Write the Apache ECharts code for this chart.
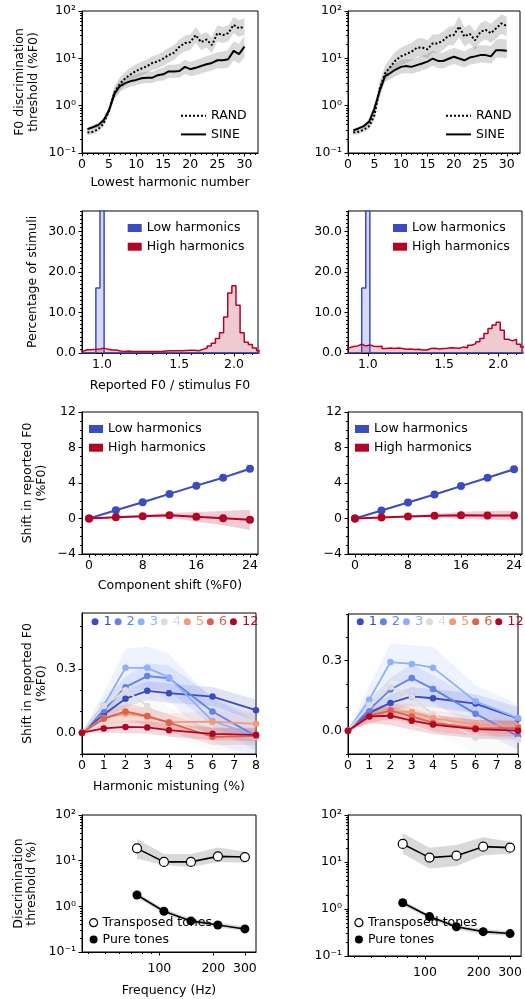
<!DOCTYPE html>
<html>
<head>
<meta charset="utf-8">
<script src="https://cdn.jsdelivr.net/npm/echarts@6.0.0/dist/echarts.min.js"></script>
<style>
html, body { margin: 0; padding: 0; background: #fff; }
#main { width: 525px; height: 999px; }
</style>
</head>
<body>
<div id="main"></div>
<script>
// ---- row 1: F0 discrimination vs lowest harmonic ----
var harmonicNumbers = [1,2,3,4,5,6,7,8,9,10,11,12,13,14,15,16,17,18,19,20,21,22,23,24,25,26,27,28,29,30];

var randLeft   = [0.27,0.28,0.32,0.42,0.8,1.9,2.9,3.8,4.6,5.4, 6.1,6.8,8.0,8.6,9.9,11.7,13.2,17.6,21,22, 31,22,25,19,34,31,34,51,43,47];
var randLeftLo = [0.24,0.25,0.28,0.36,0.65,1.4,2.1,2.7,3.3,3.9, 4.4,4.9,5.7,6.1,7,8.2,9.2,12,14,15, 21,15,17,13,23,21,23,34,29,31];
var randLeftHi = [0.31,0.32,0.37,0.5,1.0,2.6,4.0,5.2,6.4,7.5, 8.5,9.5,11,12,14,16.5,19,25,30,32, 46,32,36,28,50,46,50,75,64,70];
var sineLeft   = [0.32,0.35,0.39,0.49,0.8,1.8,2.6,3.0,3.3,3.5, 3.8,3.9,3.9,4.4,4.6,5.3,5.3,5.4,6.6,5.9, 6.3,6.9,7.5,8.0,9.1,9.1,9.6,14.4,12.3,17.6];
var sineLeftLo = [0.29,0.32,0.35,0.43,0.68,1.4,2.0,2.3,2.5,2.7, 2.9,3.0,3.0,3.3,3.4,3.9,3.9,3.9,4.7,4.2, 4.4,4.8,5.2,5.5,6.2,6.1,6.4,9,7.8,10.5];
var sineLeftHi = [0.35,0.39,0.44,0.57,0.95,2.3,3.3,3.9,4.3,4.6, 5.0,5.2,5.2,5.9,6.3,7.3,7.3,7.6,9.4,8.4, 9.1,10,11,12,13.5,14,15,23,20,30];

var randRight   = [0.27,0.28,0.31,0.37,0.63,2.3,4.8,6.6,9.1,11, 12.3,13.8,16.7,17,15.5,20.7,20.7,24,30,31, 47,29,33,24,36,40,34,43,55,48];
var randRightLo = [0.24,0.25,0.28,0.32,0.5,1.6,3.3,4.4,6,7.2, 8,9,10.8,11,10,13,13,15,19,19, 28,18,21,15,22,25,21,26,33,29];
var randRightHi = [0.3,0.31,0.35,0.43,0.8,3.3,7,10,14,17, 19,21,26,27,24,32,32,37,46,48, 78,45,52,37,56,62,53,68,85,76];
var sineRight   = [0.3,0.33,0.37,0.46,0.87,2.1,4.2,4.9,5.8,6.6, 6.9,6.6,7.2,7.8,8.5,9.9,8.8,8.8,9.8,10.8, 9.9,9.1,10.4,11,11.7,11.7,11,14.9,14.9,14.4];
var sineRightLo = [0.27,0.3,0.33,0.4,0.7,1.6,3.2,3.6,4.2,4.7, 4.9,4.7,5.1,5.5,6,7,6.2,6.2,6.9,7.6, 7,6.4,7.3,7.7,8.2,8.2,7.7,10.3,10.3,10];
var sineRightHi = [0.33,0.36,0.41,0.53,1.1,2.8,5.6,6.6,8,9.2, 9.8,9.4,10.3,11.3,12.5,14.7,13.2,13.3,15,16.5, 15.3,14.2,16.3,17.5,18.8,19,18,25,25.5,25];

// ---- row 2: histograms, 32 bins per octave, first bin index -5 ----
var histFirstBin = -5;
var binsPerOctave = 32;
var histLowLeft  = [0,0,0,0,16,60,0,0,0,0, 0,0,0,0,0,0,0,0,0,0, 0,0,0,0,0,0,0,0,0,0, 0,0,0,0,0,0,0,0,0,0, 0,0,0,0];
var histHighLeft = [0.5,0.8,0.8,0.9,1.0, 1.2,0.9,0.75,0.75,0.5,0.4,0.5,0.35,0.4,0.35,
                    0.4,0.35,0.35,0.4,0.35,0.5,0.55,0.55,0.55,0.55,
                    0.6,0.65,0.65,0.55,0.9,1.25,1.75,2.4,3.6,5.0,
                    8.9,14.8,16.6,11.8,5.0,2.65,2.1,1.25,0.55];
var histLowRight  = [0,0,0,0,16,60,0,0,0,0, 0,0,0,0,0,0,0,0,0,0, 0,0,0,0,0,0,0,0,0,0, 0,0,0,0,0,0,0,0,0,0, 0,0,0,0];
var histHighRight = [1.3,1.6,1.75,2.15,1.75, 2.0,1.65,1.6,1.65,1.1,1.25,1.1,1.25,1.1,0.9,
                     1.0,0.85,0.9,0.75,0.75,1.1,1.15,1.0,1.1,1.15,
                     1.3,1.25,1.15,1.5,1.3,1.9,2.3,2.8,3.55,4.8,
                     6.05,6.9,7.55,5.6,3.4,3.0,3.4,2.15,1.5];

// ---- row 3: component shift ----
var componentShift = [0,4,8,12,16,20,24];
var lowShiftLeft   = [0,0.93,1.83,2.77,3.7,4.6,5.6];
var lowShiftLeftErr = [0,0.08,0.1,0.1,0.12,0.12,0.15];
var highShiftLeft  = [0,0.15,0.26,0.37,0.19,0.04,-0.15];
var highShiftLeftErr = [0.05,0.1,0.15,0.25,0.55,0.8,1.15];
var lowShiftRight  = [0,0.9,1.8,2.7,3.65,4.6,5.55];
var lowShiftRightErr = [0,0.08,0.1,0.1,0.12,0.12,0.15];
var highShiftRight = [0,0.1,0.22,0.3,0.37,0.35,0.35];
var highShiftRightErr = [0.03,0.08,0.12,0.2,0.4,0.5,0.55];

// ---- row 4: harmonic mistuning ----
var mistuning = [0,1,2,3,4,6,8];
var mistunedHarmonics = ['1','2','3','4','5','6','12'];
var mistuneLeft = [
  [0,0.086,0.16,0.197,0.186,0.17,0.106],
  [0,0.105,0.214,0.266,0.256,0.10,-0.016],
  [0,0.128,0.305,0.305,0.26,0.055,-0.016],
  [0,0.125,0.2,0.125,0.05,-0.01,-0.02],
  [0,0.069,0.09,0.075,0.05,0.052,0.042],
  [0,0.066,0.1,0.078,0.047,-0.019,-0.016],
  [0,0.02,0.027,0.025,0.012,-0.005,-0.01]
];
var mistuneLeftErr = [
  [0,0.03,0.04,0.045,0.045,0.045,0.05],
  [0,0.04,0.05,0.06,0.06,0.07,0.07],
  [0,0.06,0.09,0.1,0.11,0.1,0.1],
  [0,0.05,0.07,0.07,0.07,0.07,0.07],
  [0,0.03,0.04,0.04,0.04,0.05,0.05],
  [0,0.03,0.04,0.04,0.04,0.04,0.04],
  [0,0.02,0.03,0.03,0.03,0.03,0.03]
];
var mistuneRight = [
  [0,0.076,0.119,0.147,0.139,0.116,0.051],
  [0,0.09,0.176,0.226,0.179,0.073,-0.024],
  [0,0.133,0.294,0.286,0.27,0.126,0.054],
  [0,0.11,0.187,0.147,0.069,-0.029,-0.039],
  [0,0.061,0.083,0.079,0.054,0.026,0.019],
  [0,0.064,0.086,0.061,0.033,0.011,0.011],
  [0,0.061,0.064,0.043,0.026,0.007,0.0]
];
var mistuneRightErr = [
  [0,0.03,0.035,0.04,0.04,0.04,0.05],
  [0,0.04,0.05,0.06,0.06,0.06,0.06],
  [0,0.06,0.08,0.08,0.09,0.07,0.06],
  [0,0.05,0.06,0.06,0.07,0.07,0.07],
  [0,0.03,0.035,0.035,0.035,0.035,0.035],
  [0,0.03,0.035,0.035,0.035,0.035,0.035],
  [0,0.03,0.04,0.04,0.04,0.04,0.04]
];

// ---- row 5: pure vs transposed tones ----
var frequencies = [75,106,150,212,300];
var transLeft   = [18.6,9.4,9.4,12.4,12.0];
var transLeftLo = [11,8,7.3,9.4,9];
var transLeftHi = [30,14,14,19.5,15.8];
var pureLeft    = [1.77,0.78,0.48,0.39,0.32];
var pureLeftLo  = [1.55,0.69,0.43,0.35,0.29];
var pureLeftHi  = [2.0,0.88,0.54,0.44,0.36];
var transRight   = [24.2,12.4,13.6,21.2,20.2];
var transRightLo = [15,7.3,8.2,14,15];
var transRightHi = [41,20,23,33.5,27];
var pureRight    = [1.36,0.69,0.42,0.33,0.30];
var pureRightLo  = [1.2,0.61,0.37,0.29,0.27];
var pureRightHi  = [1.52,0.77,0.47,0.37,0.34];

// ---- tick labels ----
var logDecades = [0.1, 1, 10, 100];
var harmonicTicks = [0,5,10,15,20,25,30];
var ratioTicks = [1.0, 1.5, 2.0];
var ratioMinorTicks = [1.1,1.2,1.3,1.4,1.6,1.7,1.8,1.9,2.1,2.2];
var percentTicks = [0,10,20,30];
var shiftTicks = [0,8,16,24];
var reportedShiftTicks = [-4,0,4,8,12];
var mistuneTicks = [0,1,2,3,4,5,6,7,8];
var mistuneYTicks = [0.0, 0.3];
var freqTicks = [100,200,300];
var freqMinorTicks = [40,50,60,70,80,90];

// ---- style ----
var FONT = 'DejaVu Sans';
var INK = '#000';
var FS = 12.5;
var GRAY_BAND = 'rgba(128,128,128,0.3)';
var COOL = '#3b4cc0', WARM = '#b40426';
var mistuneColors = ['#3b4cc0','#6282ea','#8db0fe','#dddcdc','#f49a7b','#de604d','#b40426'];

function rgba(hex, a) {
  var n = parseInt(hex.slice(1), 16);
  return 'rgba(' + (n >> 16) + ',' + ((n >> 8) & 255) + ',' + (n & 255) + ',' + a + ')';
}
function steps(a, b, s) {
  var out = [];
  for (var v = a; v <= b + 1e-9; v += s) out.push(+v.toFixed(6));
  return out;
}
function logMinor(lo, hi) {
  var out = [];
  for (var d = lo; d < hi; d *= 10) for (var m = 2; m <= 9; m++) out.push(+(d * m).toPrecision(6));
  return out;
}
var SUP = {'-1': '10\u207b\u00b9', '0': '10\u2070', '1': '10\u00b9', '2': '10\u00b2'};
function logFmt(v) { return SUP[String(Math.round(Math.log10(v)))]; }
function fix1(v) { return (+v).toFixed(1); }
function minusFmt(v) { return v < 0 ? '\u2212' + Math.abs(v) : String(v); }

var grids = [
  {left: 82,  top: 11,  width: 176, height: 142},
  {left: 348, top: 11,  width: 172, height: 142},
  {left: 82,  top: 211, width: 176, height: 142},
  {left: 348, top: 211, width: 174, height: 142},
  {left: 82,  top: 412, width: 176, height: 142},
  {left: 348, top: 412, width: 174, height: 142},
  {left: 82,  top: 613, width: 174, height: 141},
  {left: 348, top: 614, width: 174, height: 140},
  {left: 82,  top: 815, width: 174, height: 141},
  {left: 348, top: 815, width: 174, height: 141}
].map(function (g) {
  return Object.assign({show: true, borderColor: INK, borderWidth: 1, backgroundColor: 'transparent'}, g);
});

// axis 2*g is the labelled one for grid g, 2*g+1 carries the minor ticks
var xAxes = [], yAxes = [];
function addAxes(list, dim, g, o) {
  var common = {
    gridIndex: g, type: o.type || 'value', min: o.min, max: o.max,
    position: dim === 'x' ? 'bottom' : 'left',
    splitLine: {show: false}, minorTick: {show: false}, minorSplitLine: {show: false}
  };
  list[2 * g] = Object.assign({}, common, {
    axisLine: {show: true, onZero: false, lineStyle: {color: INK, width: 1}},
    axisTick: {show: true, inside: false, length: 3.5, lineStyle: {color: INK, width: 1}, customValues: o.major},
    axisLabel: {show: true, customValues: o.major, formatter: o.fmt, margin: o.margin || (dim === 'x' ? 5 : 6),
                color: INK, fontFamily: FONT, fontSize: FS, hideOverlap: false},
    name: o.name || '', nameLocation: 'middle', nameGap: o.gap || 0, nameRotate: dim === 'y' ? 90 : 0,
    nameTextStyle: {color: INK, fontFamily: FONT, fontSize: FS, lineHeight: o.lh || 14}
  });
  list[2 * g + 1] = Object.assign({}, common, {
    axisLine: {show: false, onZero: false},
    axisTick: {show: !!o.minor, inside: false, length: 2, lineStyle: {color: INK, width: 1}, customValues: o.minor || []},
    axisLabel: {show: false}
  });
}

var logMinorTicks = logMinor(0.1, 100);
[0, 1].forEach(function (c) {
  var g = c;
  addAxes(xAxes, 'x', g, {min: 0, max: 32.5, major: harmonicTicks, minor: steps(1, 32, 1),
    name: c === 0 ? 'Lowest harmonic number' : '', gap: 23});
  addAxes(yAxes, 'y', g, {type: 'log', min: 0.1, max: 100, major: logDecades, minor: logMinorTicks, fmt: logFmt,
    name: c === 0 ? 'F0 discrimination\nthreshold (%F0)' : '', gap: 42, lh: 13.5});
  g = 2 + c;
  addAxes(xAxes, 'x', g, {type: 'log', min: 0.9, max: 2.27, major: ratioTicks, minor: ratioMinorTicks, fmt: fix1,
    name: c === 0 ? 'Reported F0 / stimulus F0' : '', gap: 26});
  addAxes(yAxes, 'y', g, {min: 0, max: 35, major: percentTicks, minor: steps(1, 35, 1), fmt: fix1,
    name: c === 0 ? 'Percentage of stimuli' : '', gap: 42});
  g = 4 + c;
  addAxes(xAxes, 'x', g, {min: -1.05, max: 25.2, major: shiftTicks, minor: steps(1, 25, 1),
    name: c === 0 ? 'Component shift (%F0)' : '', gap: 25});
  addAxes(yAxes, 'y', g, {min: -4, max: 12, major: reportedShiftTicks, minor: steps(-4, 12, 1), fmt: minusFmt,
    name: c === 0 ? 'Shift in reported F0\n(%F0)' : '', gap: 33, lh: 14.4});
  g = 6 + c;
  addAxes(xAxes, 'x', g, {min: 0, max: 8, major: mistuneTicks,
    name: c === 0 ? 'Harmonic mistuning (%)' : '', gap: 26});
  addAxes(yAxes, 'y', g, {min: -0.1, max: c === 0 ? 0.5625 : 0.5, major: mistuneYTicks, minor: [-0.1, 0.1, 0.2, 0.4, 0.5], fmt: fix1,
    name: c === 0 ? 'Shift in reported F0\n(%F0)' : '', gap: 33, lh: 14.4});
  g = 8 + c;
  addAxes(xAxes, 'x', g, {type: 'log', min: 37, max: 346, major: freqTicks, minor: freqMinorTicks, margin: 10,
    name: c === 0 ? 'Frequency (Hz)' : '', gap: 32});
  addAxes(yAxes, 'y', g, {type: 'log', min: 0.1, max: 100, major: logDecades, minor: logMinorTicks, fmt: logFmt,
    name: c === 0 ? 'Discrimination\nthreshold (%)' : '', gap: 43.5, lh: 13.5});
});

var series = [];
function band(g, xs, lo, hi, color) {
  return {
    type: 'custom', xAxisIndex: 2 * g, yAxisIndex: 2 * g, z: 1, silent: true,
    data: [[xs[0], hi[0]]],
    renderItem: function (params, api) {
      var pts = [];
      for (var i = 0; i < xs.length; i++) pts.push(api.coord([xs[i], hi[i]]));
      for (var j = xs.length - 1; j >= 0; j--) pts.push(api.coord([xs[j], lo[j]]));
      var cs = params.coordSys;
      return {
        type: 'polygon', shape: {points: pts}, style: {fill: color, stroke: null},
        clipPath: {type: 'rect', shape: {x: cs.x, y: cs.y, width: cs.width, height: cs.height}}
      };
    }
  };
}
function errBand(g, xs, ys, err, color) {
  return band(g, xs,
    ys.map(function (v, i) { return v - err[i]; }),
    ys.map(function (v, i) { return v + err[i]; }), color);
}
function line(g, name, xs, ys, st) {
  return {
    type: 'line', name: name, xAxisIndex: 2 * g, yAxisIndex: 2 * g, z: st.z || 3,
    data: xs.map(function (x, i) { return [x, ys[i]]; }),
    symbol: st.symbol || 'none', symbolSize: st.size || 0, showSymbol: !!st.symbol,
    itemStyle: {color: st.fill || st.color, borderColor: st.color, borderWidth: st.bw || 0},
    lineStyle: {color: st.color, width: st.width || 2, type: st.type || 'solid'},
    emphasis: {disabled: true}, silent: true
  };
}
function binEdge(i) { return Math.pow(2, (histFirstBin + i - 0.5) / binsPerOctave); }
function histData(h) {
  var pts = [[binEdge(0), 0]];
  for (var i = 0; i < h.length; i++) pts.push([binEdge(i), h[i]]);
  pts.push([binEdge(h.length), 0]);
  return pts;
}
function hist(g, name, h, color) {
  return {
    type: 'line', name: name, xAxisIndex: 2 * g, yAxisIndex: 2 * g, step: 'end', z: 2,
    symbol: 'none', showSymbol: false, data: histData(h), silent: true,
    lineStyle: {color: color, width: 1.5}, itemStyle: {color: color},
    areaStyle: {color: rgba(color, 0.3), origin: 'start'}
  };
}

// row 1
[[0, randLeft, randLeftLo, randLeftHi, sineLeft, sineLeftLo, sineLeftHi],
 [1, randRight, randRightLo, randRightHi, sineRight, sineRightLo, sineRightHi]].forEach(function (p) {
  series.push(band(p[0], harmonicNumbers, p[2], p[3], GRAY_BAND));
  series.push(band(p[0], harmonicNumbers, p[5], p[6], GRAY_BAND));
  series.push(line(p[0], 'RAND', harmonicNumbers, p[1], {color: INK, width: 2, type: [2, 2]}));
  series.push(line(p[0], 'SINE', harmonicNumbers, p[4], {color: INK, width: 2}));
});
// row 2
[[2, histLowLeft, histHighLeft], [3, histLowRight, histHighRight]].forEach(function (p) {
  series.push(hist(p[0], 'Low harmonics', p[1], COOL));
  series.push(hist(p[0], 'High harmonics', p[2], WARM));
});
// row 3
[[4, lowShiftLeft, lowShiftLeftErr, highShiftLeft, highShiftLeftErr],
 [5, lowShiftRight, lowShiftRightErr, highShiftRight, highShiftRightErr]].forEach(function (p) {
  series.push(errBand(p[0], componentShift, p[1], p[2], rgba(COOL, 0.2)));
  series.push(errBand(p[0], componentShift, p[3], p[4], rgba(WARM, 0.2)));
  series.push(line(p[0], 'Low harmonics', componentShift, p[1], {color: COOL, width: 2, symbol: 'circle', size: 8}));
  series.push(line(p[0], 'High harmonics', componentShift, p[3], {color: WARM, width: 2, symbol: 'circle', size: 8}));
});
// row 4
[[6, mistuneLeft, mistuneLeftErr], [7, mistuneRight, mistuneRightErr]].forEach(function (p) {
  mistunedHarmonics.forEach(function (name, k) {
    series.push(errBand(p[0], mistuning, p[1][k], p[2][k], rgba(mistuneColors[k], 0.15)));
  });
  mistunedHarmonics.forEach(function (name, k) {
    series.push(line(p[0], name, mistuning, p[1][k], {color: mistuneColors[k], width: 1.8, symbol: 'circle', size: 6.5, z: 3 + k * 0.01}));
  });
});
// row 5
[[8, transLeft, transLeftLo, transLeftHi, pureLeft, pureLeftLo, pureLeftHi],
 [9, transRight, transRightLo, transRightHi, pureRight, pureRightLo, pureRightHi]].forEach(function (p) {
  series.push(band(p[0], frequencies, p[2], p[3], GRAY_BAND));
  series.push(band(p[0], frequencies, p[5], p[6], GRAY_BAND));
  series.push(line(p[0], 'Transposed tones', frequencies, p[1], {color: INK, width: 1.6, symbol: 'circle', size: 9, fill: '#fff', bw: 1.2}));
  series.push(line(p[0], 'Pure tones', frequencies, p[4], {color: INK, width: 1.6, symbol: 'circle', size: 9, fill: INK}));
});

var legendText = {color: INK, fontFamily: FONT, fontSize: FS, lineHeight: 14};
var legends = [];
[180, 445].forEach(function (x) {
  legends.push({left: x, top: 108.7, orient: 'vertical', itemWidth: 25, itemHeight: 10, itemGap: 4.7,
    padding: 0, selectedMode: false, textStyle: legendText,
    itemStyle: {color: 'transparent', borderColor: 'transparent', borderWidth: 0},
    data: ['RAND', 'SINE']});
});
[[127.7, 221], [393, 221], [89, 422], [355, 422]].forEach(function (p) {
  legends.push({left: p[0], top: p[1], orient: 'vertical', icon: 'rect', itemWidth: 14, itemHeight: 8, itemGap: 4.7,
    padding: 0, selectedMode: false, textStyle: legendText, itemStyle: {borderWidth: 0},
    data: [{name: 'Low harmonics', itemStyle: {color: COOL}}, {name: 'High harmonics', itemStyle: {color: WARM}}]});
});
[[91.5, 614.7], [356.8, 614.7]].forEach(function (p) {
  legends.push({left: p[0], top: p[1], orient: 'horizontal', icon: 'circle', itemWidth: 7, itemHeight: 7, itemGap: 2.8,
    padding: 0, selectedMode: false, itemStyle: {borderWidth: 0},
    data: mistunedHarmonics.map(function (name, k) {
      return {name: name, itemStyle: {color: mistuneColors[k]},
              textStyle: {color: mistuneColors[k], fontFamily: FONT, fontSize: 13, lineHeight: 14}};
    })});
});
[89, 354.3].forEach(function (x) {
  legends.push({left: x, top: 915.7, orient: 'vertical', icon: 'circle', itemWidth: 8, itemHeight: 8, itemGap: 2.7,
    padding: 0, selectedMode: false, textStyle: legendText,
    data: [{name: 'Transposed tones', itemStyle: {color: '#fff', borderColor: INK, borderWidth: 1.2}},
           {name: 'Pure tones', itemStyle: {color: INK, borderWidth: 0}}]});
});

var chart = echarts.init(document.getElementById('main'));
chart.setOption({
  animation: false,
  backgroundColor: '#fff',
  textStyle: {fontFamily: FONT},
  grid: grids,
  xAxis: xAxes,
  yAxis: yAxes,
  legend: legends,
  series: series
});
window.onresize = function () { chart.resize(); };
</script>
</body>
</html>
